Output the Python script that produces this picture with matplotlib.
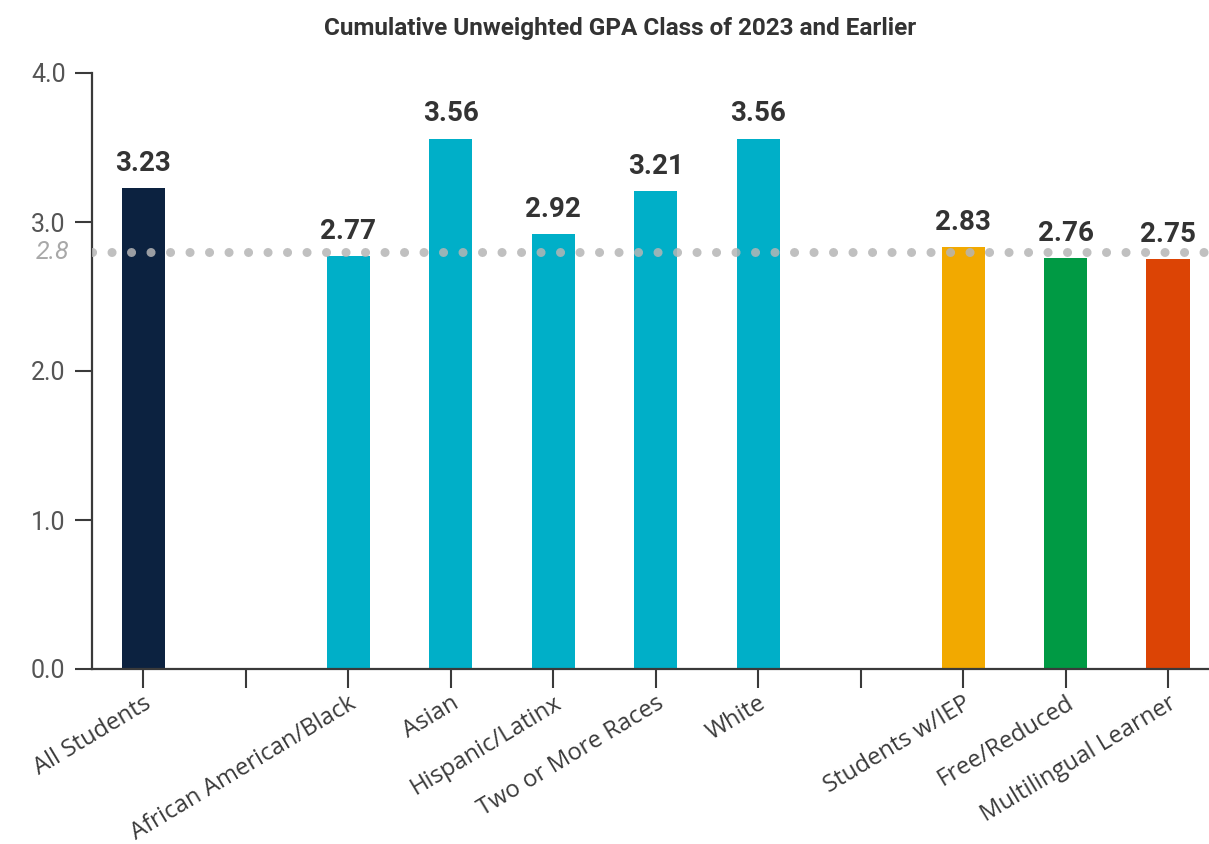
import numpy as np
import matplotlib.pyplot as plt

# Category labels (blank entries are the spacer slots between groups)
groups = ['All Students', '', 'African American/Black', 'Asian', 'Hispanic/Latinx',
          'Two or More Races', 'White', '', 'Students w/IEP', 'Free/Reduced',
          'Multilingual Learner']
gpa = [3.23, np.nan, 2.77, 3.56, 2.92, 3.21, 3.56, np.nan, 2.83, 2.76, 2.75]
bar_colors = ['#0c2240', 'none', '#00afc8', '#00afc8', '#00afc8', '#00afc8',
              '#00afc8', 'none', '#f2a900', '#009a44', '#dc4405']
target = 2.8

fig = plt.figure(figsize=(12.09, 8.44), dpi=100)
ax = fig.add_axes([92 / 1209, 1 - 669 / 844, 1 - 92 / 1209, (669 - 73) / 844])

x = np.arange(len(groups))
bars = ax.bar(x, gpa, width=0.42, color=bar_colors, zorder=2)

# value labels above bars
for xi, v in zip(x, gpa):
    if np.isnan(v):
        continue
    ax.annotate(f'{v:.2f}', xy=(xi, v), xytext=(0, 8), textcoords='offset points',
                ha='center', va='bottom', fontsize=20, fontweight='bold',
                family='Roboto', color='#333333')

# dotted reference line
ax.axhline(target, color='#b5b5b5', lw=6.5, linestyle=(0, (0.01, 2.15)),
           dash_capstyle='round', alpha=0.85, zorder=3)
ax.annotate(f'{target}', xy=(0, target), xycoords=('axes fraction', 'data'),
            xytext=(-16, 0), textcoords='offset points', ha='right', va='center',
            fontsize=18, style='italic', family='Roboto', color='#a8a8a8')

ax.set_xlim(-0.5, 10.4)
ax.set_ylim(0, 4)
ax.set_yticks([0, 1, 2, 3, 4])
ax.set_yticklabels(['0.0', '1.0', '2.0', '3.0', '4.0'], family='Roboto',
                   fontsize=18, color='#555555')
ax.set_xticks(x)
ax.set_xticklabels(groups, rotation=31, ha='right', va='top', rotation_mode='anchor',
                   family='Open Sans', fontsize=17.2, color='#3a3a3a')

for side in ['top', 'right']:
    ax.spines[side].set_visible(False)
for side in ['left', 'bottom']:
    ax.spines[side].set_color('#3a3a3a')
    ax.spines[side].set_linewidth(1.6)
ax.tick_params(axis='y', length=12, width=1.5, color='#3a3a3a', pad=7)
ax.tick_params(axis='x', length=14, width=1.5, color='#3a3a3a', pad=2)

fig.text(0.513, 0.966, 'Cumulative Unweighted GPA Class of 2023 and Earlier',
         ha='center', va='center', fontsize=17.5, fontweight='bold',
         family='Roboto', color='#333333')

plt.savefig('out.png', dpi=100)
